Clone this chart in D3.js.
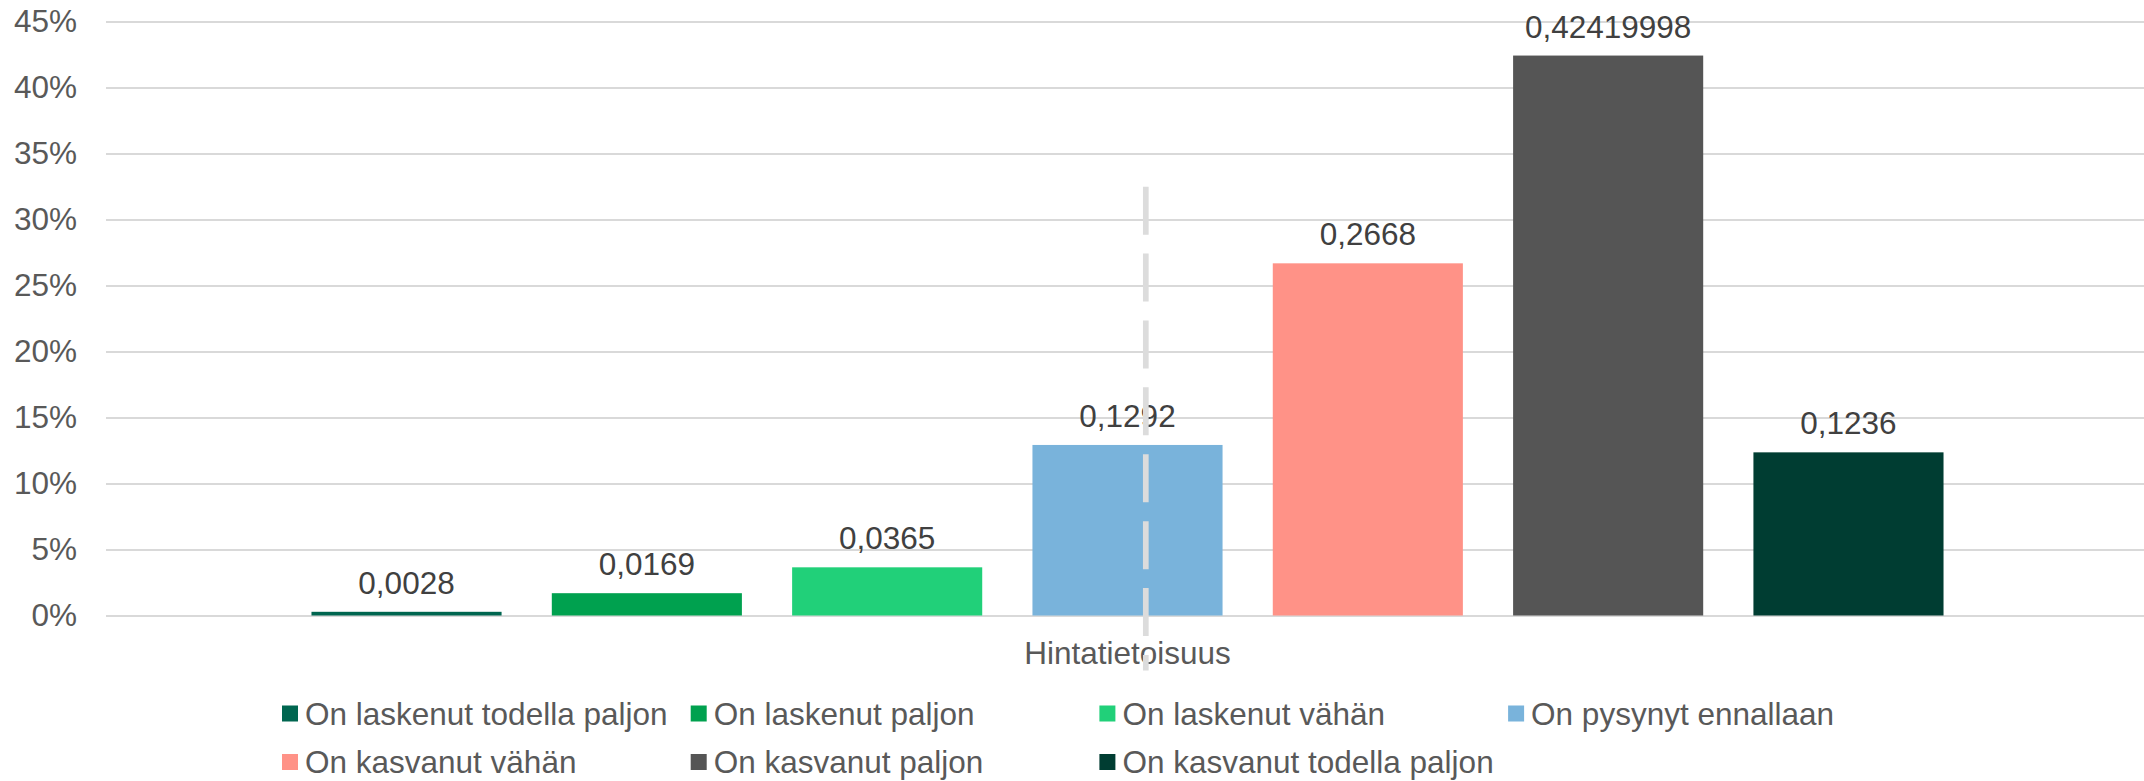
<!DOCTYPE html>
<html lang="fi">
<head>
<meta charset="utf-8">
<title>Hintatietoisuus</title>
<script src="https://cdn.jsdelivr.net/npm/d3@7/dist/d3.min.js"></script>
<style>
  html, body { margin: 0; padding: 0; background: #ffffff; }
  svg { display: block; }
  text { font-family: "Liberation Sans", Arial, sans-serif; }
</style>
</head>
<body>
<svg id="chart" width="2144" height="781"></svg>
<script>
// Category on the x axis
const categories = ["Hintatietoisuus"];

// Answer options (one series each)
const seriesNames = [
  "On laskenut todella paljon",
  "On laskenut paljon",
  "On laskenut vähän",
  "On pysynyt ennallaan",
  "On kasvanut vähän",
  "On kasvanut paljon",
  "On kasvanut todella paljon"
];

// Share of respondents per answer option
const seriesValues = [0.0028, 0.0169, 0.0365, 0.1292, 0.2668, 0.42419998, 0.1236];

// Y axis ticks
const yTicks = [0, 0.05, 0.10, 0.15, 0.20, 0.25, 0.30, 0.35, 0.40, 0.45];

const seriesColors = ["#006650", "#00A14F", "#21D079", "#79B3DB", "#FF9287", "#555555", "#003D32"];

const W = 2144, H = 781;
const plot = { left: 106, right: 2149, top: 21.5, bottom: 615.5 };
const fontSize = 31.5;

const svg = d3.select("#chart");

const y = d3.scaleLinear().domain([0, 0.45]).range([plot.bottom, plot.top]);

const x0 = d3.scaleBand()
  .domain(categories)
  .range([plot.left, plot.right])
  .paddingInner(0)
  .paddingOuter(0.1259);

const x1 = d3.scaleBand()
  .domain(seriesNames)
  .range([0, x0.bandwidth()])
  .paddingInner(0.209)
  .paddingOuter(0);

const color = d3.scaleOrdinal().domain(seriesNames).range(seriesColors);

// Gridlines and percentage labels
const yAxis = svg.append("g")
  .attr("transform", `translate(${plot.left},0)`)
  .call(d3.axisLeft(y)
    .tickValues(yTicks)
    .tickFormat(d3.format(".0%"))
    .tickSize(-(W - plot.left))
    .tickPadding(29));
yAxis.select(".domain").remove();
yAxis.selectAll(".tick line").attr("stroke", "#d9d9d9").attr("stroke-width", 2);
yAxis.selectAll(".tick text")
  .attr("fill", "#595959")
  .attr("font-size", fontSize)
  .attr("font-family", "'Liberation Sans', Arial, sans-serif")
  .attr("dy", "0.33em");

// Category label
const xAxis = svg.append("g")
  .attr("transform", `translate(0,${plot.bottom})`)
  .call(d3.axisBottom(x0).tickSize(0).tickPadding(26));
xAxis.select(".domain").remove();
xAxis.selectAll(".tick text")
  .attr("fill", "#595959")
  .attr("font-size", fontSize)
  .attr("font-family", "'Liberation Sans', Arial, sans-serif");

// Bars
const rows = seriesNames.map((name, i) => ({ name, value: seriesValues[i], category: categories[0] }));

const group = svg.append("g");
group.selectAll("rect")
  .data(rows)
  .join("rect")
  .attr("x", d => x0(d.category) + x1(d.name))
  .attr("y", d => y(d.value))
  .attr("width", x1.bandwidth())
  .attr("height", d => y(0) - y(d.value))
  .attr("fill", d => color(d.name));

// Value labels (decimal comma)
group.selectAll("text.value")
  .data(rows)
  .join("text")
  .attr("class", "value")
  .attr("x", d => x0(d.category) + x1(d.name) + x1.bandwidth() / 2)
  .attr("y", d => y(d.value) - 18)
  .attr("text-anchor", "middle")
  .attr("fill", "#404040")
  .attr("font-size", fontSize)
  .text(d => String(d.value).replace(".", ","));

// Dashed vertical marker line drawn over the bars
const markerX = x0(categories[0]) + x0.bandwidth() / 2 + 18.3;
svg.append("line")
  .attr("x1", markerX).attr("x2", markerX)
  .attr("y1", y(0.3249)).attr("y2", y(-0.0417))
  .attr("stroke", "#dcdcdc")
  .attr("stroke-width", 5.7)
  .attr("stroke-dasharray", "48 18.9");

// Legend: four columns, two rows
const legendCols = 4;
const legendX0 = 282, legendColStep = 408.7;
const legendRowY = [713.5, 762];
const legend = svg.append("g");
const items = legend.selectAll("g")
  .data(seriesNames)
  .join("g")
  .attr("transform", (d, i) =>
    `translate(${legendX0 + (i % legendCols) * legendColStep},${legendRowY[Math.floor(i / legendCols)]})`);
items.append("rect")
  .attr("x", 0).attr("y", -8)
  .attr("width", 16).attr("height", 16)
  .attr("fill", d => color(d));
items.append("text")
  .attr("x", 23)
  .attr("y", 11)
  .attr("fill", "#595959")
  .attr("font-size", fontSize)
  .text(d => d);
</script>
</body>
</html>
